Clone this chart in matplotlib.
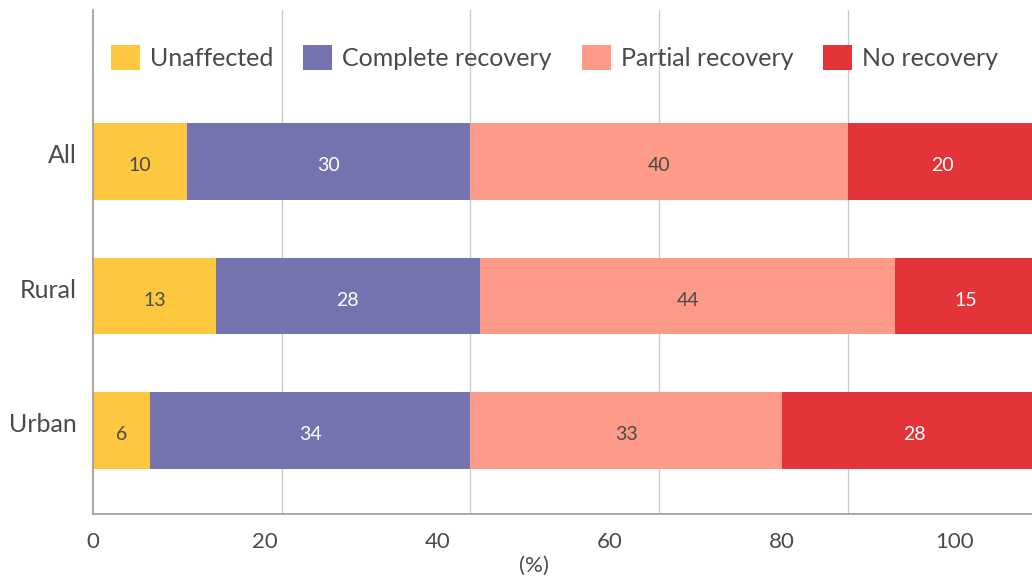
import numpy as np
import matplotlib.pyplot as plt
from matplotlib.transforms import ScaledTranslation

grupos = ["All", "Rural", "Urban"]
categorias = ["Unaffected", "Complete recovery", "Partial recovery", "No recovery"]
valores = {
    "Unaffected": [10, 13, 6],
    "Complete recovery": [30, 28, 34],
    "Partial recovery": [40, 44, 33],
    "No recovery": [20, 15, 28],
}
cores = ["#FDC740", "#7473AF", "#FE9A88", "#E33539"]
cores_texto = ["#4a4a4a", "white", "#4a4a4a", "white"]
ticks_x = [0, 20, 40, 60, 80, 100]

plt.rcParams['font.family'] = ['Lato', 'DejaVu Sans']
cinza = "#4a4a4a"

fig = plt.figure(figsize=(10.32, 5.78), dpi=100)
ax = fig.add_axes([93 / 1032, 1 - 514 / 578, (1032 - 93) / 1032, (514 - 10) / 578])

y = np.arange(len(grupos))
esquerda = np.zeros(len(grupos))
for cat, cor, cor_txt in zip(categorias, cores, cores_texto):
    vals = np.array(valores[cat])
    ax.barh(y, vals, left=esquerda, height=0.57, color=cor, label=cat, zorder=2)
    for yi, (l, v) in enumerate(zip(esquerda, vals)):
        ax.text(l + v / 2, yi + 0.03, str(v), ha='center', va='center',
                color=cor_txt, fontsize=14, zorder=3)
    esquerda += vals

ax.set_xlim(0, 99.5)
ax.set_ylim(2.62, -1.126)
ax.set_yticks(y)
ax.set_yticklabels(grupos, fontsize=18, color=cinza)
ax.tick_params(axis='y', length=0, pad=12)
# rotulos do eixo y um pouco acima do centro das barras
desloc = ScaledTranslation(0, 8 / 100, fig.dpi_scale_trans)
for rot in ax.get_yticklabels():
    rot.set_transform(rot.get_transform() + desloc)
ax.set_xticks([20, 40, 60, 80])
ax.set_xticklabels([])
ax.tick_params(axis='x', length=0)
ax.grid(axis='x', color='#cccccc', linewidth=1, zorder=0)
for lado in ['top', 'right']:
    ax.spines[lado].set_visible(False)
for lado in ['left', 'bottom']:
    ax.spines[lado].set_color('#999999')
    ax.spines[lado].set_linewidth(1.2)

# rotulos do eixo x (escala propria, como no original)
ax2 = ax.twiny()
ax2.set_xlim(0, 109)
ax2.xaxis.set_ticks_position('bottom')
ax2.xaxis.set_label_position('bottom')
ax2.set_xticks(ticks_x)
ax2.set_xticklabels([str(t) for t in ticks_x], fontsize=16, color=cinza)
ax2.tick_params(axis='x', length=0, pad=13)
for lado in ax2.spines:
    ax2.spines[lado].set_visible(False)
ax2.set_xlabel("(%)", fontsize=16, color=cinza)
ax2.xaxis.set_label_coords(0.47, -0.083)

ax.legend(loc='center left', bbox_to_anchor=(0.019, 0.905), ncol=4, frameon=False,
          fontsize=18, labelcolor=cinza, handlelength=1.16, handleheight=1.16,
          handletextpad=0.4, columnspacing=1.2, borderaxespad=0, borderpad=0)

fig.savefig("out.png", dpi=100)
